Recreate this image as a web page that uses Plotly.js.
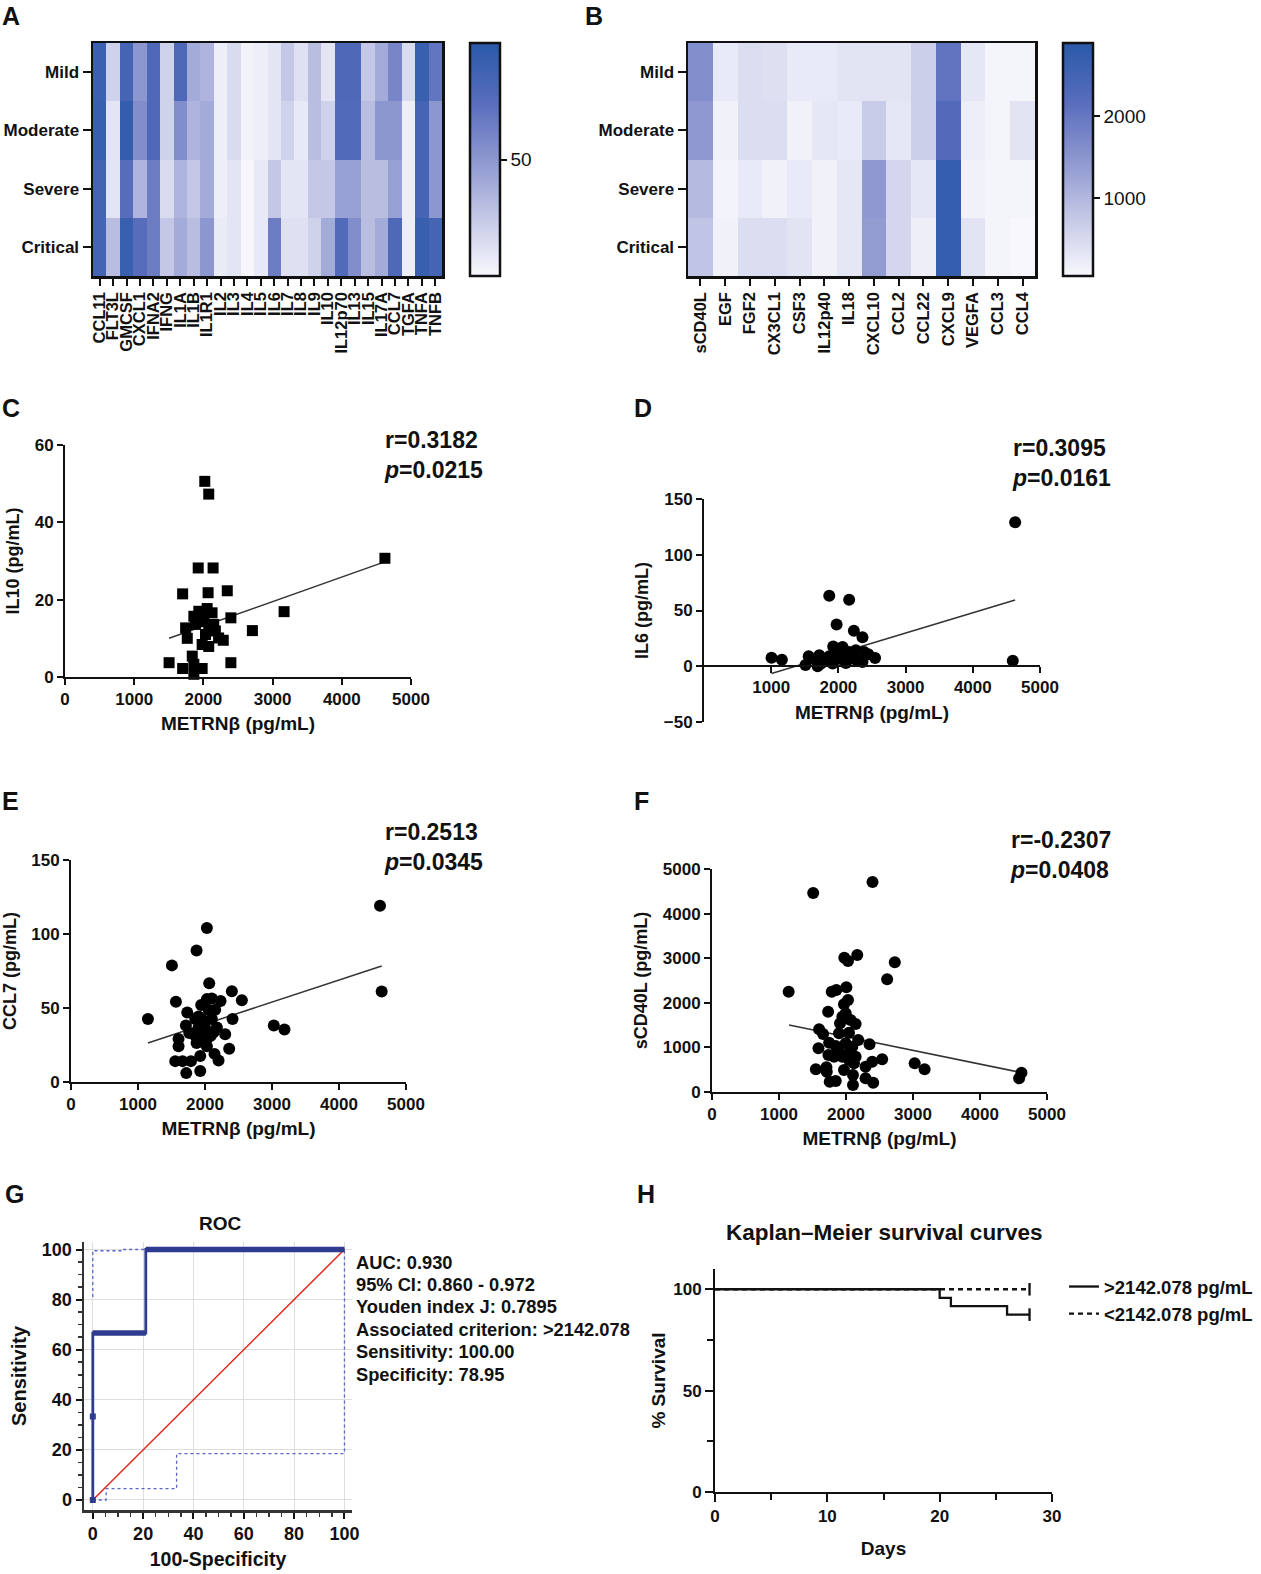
<!DOCTYPE html>
<html><head><meta charset="utf-8">
<script src="https://cdn.plot.ly/plotly-3.0.1.min.js"></script>
<style>html,body{margin:0;padding:0;background:#fff}#chart{width:1261px;height:1574px}</style>
</head><body><div id="chart"></div>
<script>
// ---------------- DATA ----------------
const severity = ['Mild', 'Moderate', 'Severe', 'Critical'];

const cytokinesA = ['CCL11','FLT3L','GMCSF','CXCL1','IFNA2','IFNG','IL1A','IL1B','IL1R1','IL2','IL3','IL4','IL5','IL6','IL7','IL8','IL9','IL10','IL12p70','IL13','IL15','IL17A','CCL7','TGFA','TNFA','TNFB'];
const mildA     = [90,20,85,50,80,20,80,40,35,5,15,3,5,10,25,12,30,10,80,80,25,40,60,15,92,70];
const moderateA = [92,10,95,55,80,20,55,35,40,5,15,3,5,10,20,8,30,20,78,78,30,50,50,5,85,50];
const severeA   = [85,10,75,35,65,15,35,25,40,5,10,1,8,25,10,10,25,25,45,45,30,30,45,5,85,50];
const criticalA = [85,30,92,75,65,25,40,30,50,7,10,1,8,65,12,12,20,40,78,55,30,40,80,5,92,85];

const cytokinesB = ['sCD40L','EGF','FGF2','CX3CL1','CSF3','IL12p40','IL18','CXCL10','CCL2','CCL22','CXCL9','VEGFA','CCL3','CCL4'];
const mildB     = [1600,250,450,400,250,250,350,350,350,650,2050,300,100,100];
const moderateB = [1450,150,450,450,150,300,250,700,300,650,2250,200,100,350];
const severeB   = [950,120,250,150,250,150,300,1450,550,300,2700,150,100,100];
const criticalB = [800,150,450,450,350,150,300,1400,550,200,2700,350,100,60];

// Panel C : METRNβ vs IL10
const metrnC = [2020,2077,1925,2140,1700,2068,2345,4623,3166,2397,2708,2287,2397,1504,1700,1862,1982,1862,1839,1767,1743,1862,1934,2054,2125,1991,2077,2173,2220,1982,2077,2030,1886,1934,2149,2006];
const il10C  = [50.6,47.3,28.2,28.2,21.5,21.8,22.3,30.7,16.9,15.3,12.0,9.5,3.7,3.7,2.2,0.7,2.2,3.3,5.4,10.0,12.7,15.7,17.0,17.7,16.6,14.4,12.7,11.9,10.1,8.4,7.9,11.0,13.6,15.3,13.6,15.7];
const fitCx = [1504, 4608];
const fitCy = [10.0, 29.7];

// Panel D : METRNβ vs IL6
const metrnD = [1005,1159,1510,1558,1691,1716,1864,1923,1973,2160,2230,2358,2062,2160,2259,2383,2546,2358,1741,1815,1914,2012,2111,1963,2037,1864,2259,2445,4630,4595,2111,1667];
const il6D   = [7.7,5.9,1.2,8.9,0,9.8,63.3,17.8,37.4,59.7,31.8,26.1,17.2,12.8,14.3,12.8,7.4,3.9,2.4,5.9,2.4,6.8,3.0,11.3,14.3,8.9,5.9,10.7,129.2,5.0,9.8,5.3];
const fitDx = [1005, 4630];
const fitDy = [-6.5, 59.4];

// Panel E : METRNβ vs CCL7
const metrnE = [1148,1506,1566,1605,1605,1556,1665,1720,1735,1715,1765,1790,1854,1874,1904,1874,1929,1929,1943,2003,1963,2028,2063,2028,2102,2152,2102,2003,2028,2028,2142,2202,2177,2127,2232,2301,2361,2401,2411,2550,3027,3186,4612,4637,1904,1854,1953,2053,1978,2087];
const ccl7E  = [42.5,78.8,54.2,29.1,24.2,14.1,14.1,6.0,47.0,38.1,33.1,14.1,42.5,26.4,44.3,88.9,17.5,7.4,52.0,36.3,31.3,104.1,66.7,56.0,56.4,48.8,42.5,40.7,29.1,24.2,19.0,14.6,36.9,33.6,54.8,32.2,22.4,61.3,42.5,55.3,38.1,35.4,119.1,61.1,36.9,31.3,42.5,48.8,26.9,31.3];
const fitEx = [1148, 4637];
const fitEy = [26.4, 78.4];

// Panel F : METRNβ vs sCD40L
const metrnF  = [1144,1510,2396,1975,2030,2168,2728,2614,1733,1787,1856,2005,2030,1970,1995,1599,1658,1589,1550,1708,1713,1757,1847,1738,1748,1847,1896,1911,1946,2045,2069,2144,2183,2351,2391,2540,2292,2292,2406,2104,2104,1970,1946,1896,2045,2094,2119,3025,3173,4619,4584,1995,2045,2144,1822];
const scd40F  = [2250,4462,4709,3012,2937,3072,2907,2526,1801,2250,2287,2347,2063,1966,1764,1405,1300,979,508,553,456,232,247,830,1106,1031,1315,1540,1689,1330,1614,1525,1166,1069,680,733,568,306,209,157,381,493,792,904,867,1016,643,643,508,433,306,1091,717,792,792];
const fitFx = [1150, 4620];
const fitFy = [1500, 435];

// Panel G : ROC
const rocX = [0, 0, 21.05, 21.05, 100];
const rocY = [0, 66.67, 66.67, 100, 100];
const rocPtX = [0, 0];
const rocPtY = [0, 33.33];
const ciUpX = [0, 0, 12, 12, 100];
const ciUpY = [81, 99.5, 99.5, 100, 100];
const ciLoX = [0, 5.3, 5.3, 33.3, 33.3, 100, 100];
const ciLoY = [0, 0, 4.5, 4.5, 18.5, 18.5, 100];
const refX = [0, 100];
const refY = [0, 100];
const rocStats = ['AUC: 0.930', '95% CI: 0.860 - 0.972', 'Youden index J: 0.7895', 'Associated criterion: &gt;2142.078', 'Sensitivity: 100.00', 'Specificity: 78.95'];

// Panel H : Kaplan–Meier
const kmHighDays = [0, 20, 21, 26, 28];
const kmHighSurv = [100, 95.8, 91.7, 87.5, 87.5];
const kmLowDays = [0, 28];
const kmLowSurv = [100, 100];

// ---------------- LAYOUT HELPERS ----------------
const W = 1261, H = 1574;
const px = v => v / W;
const py = v => 1 - v / H;
const FONT = 'Arial, "Liberation Sans", sans-serif';
const bold = s => ({family: FONT, size: s, color: '#111', weight: 'bold'});
const plain = s => ({family: FONT, size: s, color: '#111'});

const blues = [[0,'#f8f8fd'],[0.25,'#c4c8e6'],[0.5,'#8d97cf'],[0.75,'#586cbc'],[1,'#2a59a9']];

function sAxis(domain, range, extra) {
  return Object.assign({domain: domain, range: range, showline: true, linewidth: 2, linecolor: '#111',
    ticks: 'outside', ticklen: 6, tickwidth: 2, tickcolor: '#111', showgrid: false, zeroline: false,
    tickfont: bold(17), fixedrange: true}, extra || {});
}
function hAxisX(domain, anchor, fs) {
  return {domain: domain, anchor: anchor, type: 'category', showline: true, mirror: true, linewidth: 2.5, linecolor: '#111',
    ticks: 'outside', ticklen: 7, tickwidth: 2, tickcolor: '#111', tickangle: -90, tickfont: bold(fs),
    showgrid: false, zeroline: false, tickmode: 'linear', dtick: 1};
}
function hAxisY(domain, anchor) {
  return {domain: domain, anchor: anchor, type: 'category', autorange: 'reversed', showline: true, mirror: true,
    linewidth: 2.5, linecolor: '#111', ticks: 'outside', ticklen: 8, tickwidth: 2, tickcolor: '#111',
    tickfont: bold(17), showgrid: false, zeroline: false};
}

const traces = [];

// Heatmap A
traces.push({type: 'heatmap', x: cytokinesA, y: severity, z: [mildA, moderateA, severeA, criticalA],
  xaxis: 'x', yaxis: 'y', colorscale: blues, zmin: 0, zmax: 100, showscale: true,
  colorbar: {x: px(470), xanchor: 'left', xpad: 0, y: py(159.5), yanchor: 'middle', ypad: 0,
    len: 233, lenmode: 'pixels', thickness: 30, outlinewidth: 2.5, outlinecolor: '#111',
    tickmode: 'array', tickvals: [50], ticks: 'outside', ticklen: 6, tickwidth: 2, tickcolor: '#111',
    tickfont: plain(19)}});

// Heatmap B
traces.push({type: 'heatmap', x: cytokinesB, y: severity, z: [mildB, moderateB, severeB, criticalB],
  xaxis: 'x2', yaxis: 'y2', colorscale: blues, zmin: 50, zmax: 2890, showscale: true,
  colorbar: {x: px(1063), xanchor: 'left', xpad: 0, y: py(159.5), yanchor: 'middle', ypad: 0,
    len: 233, lenmode: 'pixels', thickness: 30, outlinewidth: 2.5, outlinecolor: '#111',
    tickmode: 'array', tickvals: [1000, 2000], ticks: 'outside', ticklen: 6, tickwidth: 2, tickcolor: '#111',
    tickfont: plain(19)}});

function scatterPanel(xs, ys, fx, fy, xa, ya, sym) {
  traces.push({type: 'scatter', mode: 'lines', x: fx, y: fy, xaxis: xa, yaxis: ya,
    line: {color: '#333', width: 1.5}, showlegend: false, cliponaxis: false, hoverinfo: 'skip'});
  traces.push({type: 'scatter', mode: 'markers', x: xs, y: ys, xaxis: xa, yaxis: ya,
    marker: {symbol: sym, size: sym === 'square' ? 11 : 12, color: '#000'}, showlegend: false, cliponaxis: false});
}
scatterPanel(metrnC, il10C, fitCx, fitCy, 'x3', 'y3', 'square');
scatterPanel(metrnD, il6D, fitDx, fitDy, 'x4', 'y4', 'circle');
scatterPanel(metrnE, ccl7E, fitEx, fitEy, 'x5', 'y5', 'circle');
scatterPanel(metrnF, scd40F, fitFx, fitFy, 'x6', 'y6', 'circle');

// ROC
traces.push({type: 'scatter', mode: 'lines', x: ciUpX, y: ciUpY, xaxis: 'x7', yaxis: 'y7',
  line: {color: '#5a64c8', width: 1.3, dash: 'dot'}, showlegend: false, cliponaxis: false});
traces.push({type: 'scatter', mode: 'lines', x: ciLoX, y: ciLoY, xaxis: 'x7', yaxis: 'y7',
  line: {color: '#5a64c8', width: 1.3, dash: 'dot'}, showlegend: false, cliponaxis: false});
traces.push({type: 'scatter', mode: 'lines', x: refX, y: refY, xaxis: 'x7', yaxis: 'y7',
  line: {color: '#e0281e', width: 1.5}, showlegend: false, cliponaxis: false});
traces.push({type: 'scatter', mode: 'lines', x: rocX, y: rocY, xaxis: 'x7', yaxis: 'y7',
  line: {color: '#2f3b8f', width: 2.8}, showlegend: false, cliponaxis: false});
// thicker horizontal runs of the ROC curve
const thickX = [], thickY = [];
for (let i = 1; i < rocX.length; i++) {
  if (rocY[i] === rocY[i - 1]) { thickX.push(rocX[i - 1], rocX[i], null); thickY.push(rocY[i - 1], rocY[i], null); }
}
traces.push({type: 'scatter', mode: 'lines', x: thickX, y: thickY, xaxis: 'x7', yaxis: 'y7',
  line: {color: '#2f3b8f', width: 5.5}, showlegend: false, cliponaxis: false});
traces.push({type: 'scatter', mode: 'markers', x: rocPtX, y: rocPtY, xaxis: 'x7', yaxis: 'y7',
  marker: {color: '#2f3b8f', size: 6, symbol: 'square'}, showlegend: false, cliponaxis: false});

// Kaplan–Meier
traces.push({type: 'scatter', mode: 'lines', x: kmLowDays, y: kmLowSurv, xaxis: 'x8', yaxis: 'y8',
  line: {color: '#111', width: 2.3, dash: '5px,4px'}, name: '&lt;2142.078 pg/mL', legendrank: 2, cliponaxis: false});
traces.push({type: 'scatter', mode: 'lines', x: kmHighDays, y: kmHighSurv, xaxis: 'x8', yaxis: 'y8',
  line: {color: '#111', width: 2.3, shape: 'hv'}, name: '&gt;2142.078 pg/mL', legendrank: 1, cliponaxis: false});
traces.push({type: 'scatter', mode: 'markers', x: [kmLowDays[kmLowDays.length - 1], kmHighDays[kmHighDays.length - 1]],
  y: [kmLowSurv[kmLowSurv.length - 1], kmHighSurv[kmHighSurv.length - 1]], xaxis: 'x8', yaxis: 'y8',
  marker: {symbol: 'line-ns', size: 9, line: {color: '#111', width: 2.3}}, showlegend: false, cliponaxis: false});

const metTitle = {text: 'METRNβ (pg/mL)', font: bold(19), standoff: 8};
const yT = t => ({text: t, font: bold(18), standoff: 10});

const layout = {
  width: W, height: H, margin: {l: 0, r: 0, t: 0, b: 0}, paper_bgcolor: '#fff', plot_bgcolor: 'rgba(0,0,0,0)',
  font: {family: FONT, color: '#111'},
  showlegend: true,
  legend: {x: px(1064), y: py(1268), xanchor: 'left', yanchor: 'top', font: bold(18.5), bgcolor: 'rgba(0,0,0,0)',
    itemwidth: 30, tracegroupgap: 0, traceorder: 'normal'},
  xaxis: hAxisX([px(93), px(442)], 'y', 16.5),
  yaxis: hAxisY([py(276), py(43)], 'x'),
  xaxis2: hAxisX([px(688), px(1035)], 'y2', 16.5),
  yaxis2: hAxisY([py(276), py(43)], 'x2'),

  xaxis3: sAxis([px(65), px(411)], [0, 5000], {anchor: 'y3', tickvals: [0,1000,2000,3000,4000,5000], title: metTitle}),
  yaxis3: sAxis([py(677), py(445)], [0, 60], {anchor: 'x3', tickvals: [0,20,40,60], title: yT('IL10 (pg/mL)')}),

  xaxis4: sAxis([px(704), px(1040)], [0, 5000], {anchor: 'free', position: py(666), tickvals: [1000,2000,3000,4000,5000], title: metTitle}),
  yaxis4: sAxis([py(722), py(499)], [-50, 150], {anchor: 'x4', tickvals: [-50,0,50,100,150], title: yT('IL6 (pg/mL)')}),

  xaxis5: sAxis([px(71), px(406)], [0, 5000], {anchor: 'y5', tickvals: [0,1000,2000,3000,4000,5000], title: metTitle}),
  yaxis5: sAxis([py(1082), py(860)], [0, 150], {anchor: 'x5', tickvals: [0,50,100,150], title: yT('CCL7 (pg/mL)')}),

  xaxis6: sAxis([px(712), px(1047)], [0, 5000], {anchor: 'y6', tickvals: [0,1000,2000,3000,4000,5000], title: metTitle}),
  yaxis6: sAxis([py(1092), py(869)], [0, 5000], {anchor: 'x6', tickvals: [0,1000,2000,3000,4000,5000], title: yT('sCD40L (pg/mL)')}),

  xaxis7: sAxis([px(84), px(352)], [-3.5, 103], {anchor: 'y7', tickvals: [0,20,40,60,80,100], linecolor: '#333', linewidth: 2.5,
    showgrid: true, gridcolor: '#dedede', gridwidth: 1, tickfont: bold(18),
    minor: {dtick: 5, tick0: 0, ticks: 'outside', ticklen: 4, tickwidth: 1.5, tickcolor: '#333', showgrid: false},
    title: {text: '100-Specificity', font: bold(19.5), standoff: 10}}),
  yaxis7: sAxis([py(1510), py(1242)], [-4, 103], {anchor: 'x7', tickvals: [0,20,40,60,80,100], linecolor: '#333', linewidth: 2.5,
    showgrid: true, gridcolor: '#dedede', gridwidth: 1, tickfont: bold(18),
    minor: {dtick: 5, tick0: 0, ticks: 'outside', ticklen: 4, tickwidth: 1.5, tickcolor: '#333', showgrid: false},
    title: {text: 'Sensitivity', font: bold(20), standoff: 10}}),

  xaxis8: sAxis([px(715), px(1052)], [0, 30], {anchor: 'y8', tickvals: [0,10,20,30], ticklen: 8,
    minor: {tickvals: [5,15,25], ticks: 'outside', ticklen: 6, tickwidth: 2, tickcolor: '#111'},
    title: {text: 'Days', font: bold(19), standoff: 16}}),
  yaxis8: sAxis([py(1492), py(1269)], [0, 110], {anchor: 'x8', tickvals: [0,50,100], ticklen: 8,
    minor: {tickvals: [25,75], ticks: 'outside', ticklen: 6, tickwidth: 2, tickcolor: '#111'},
    title: {text: '% Survival', font: bold(19), standoff: 3}}),

  annotations: []
};

function ann(text, x, y, font, opts) {
  layout.annotations.push(Object.assign({text: text, x: px(x), y: py(y), xref: 'paper', yref: 'paper',
    xanchor: 'left', yanchor: 'middle', showarrow: false, font: font, align: 'left'}, opts || {}));
}
// panel letters
ann('A', 0, 16, bold(25)); ann('B', 583, 16, bold(25));
ann('C', 0, 408, bold(25)); ann('D', 632, 408, bold(25));
ann('E', 0, 801, bold(25)); ann('F', 632, 801, bold(25));
ann('G', 3, 1194, bold(25)); ann('H', 635, 1194, bold(25));

// correlation stats
ann('r=0.3182<br><i>p</i>=0.0215', 382, 455, bold(23));
ann('r=0.3095<br><i>p</i>=0.0161', 1010, 463, bold(23));
ann('r=0.2513<br><i>p</i>=0.0345', 382, 847, bold(23));
ann('r=-0.2307<br><i>p</i>=0.0408', 1008, 855, bold(23));

// ROC
ann('ROC', 221, 1223, bold(19), {xanchor: 'center'});
rocStats.forEach((t, i) => ann(t, 354, 1262 + i * 22.4, bold(18.3)));

// KM title
ann('Kaplan–Meier survival curves', 884, 1232, bold(22.5), {xanchor: 'center'});

Plotly.newPlot('chart', traces, layout, {staticPlot: true, displayModeBar: false});
</script></body></html>
